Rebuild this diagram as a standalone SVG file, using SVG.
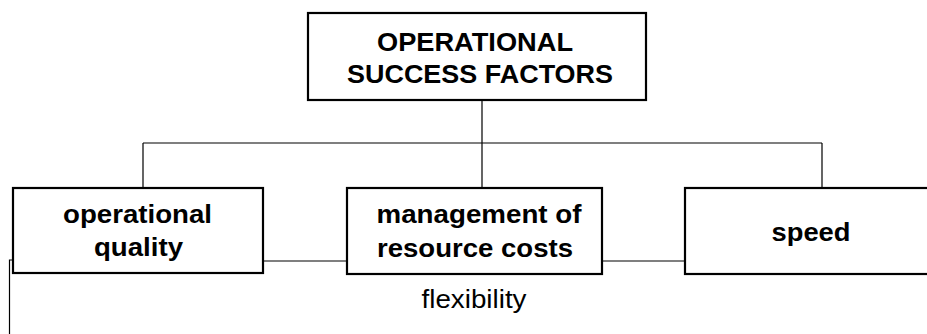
<svg xmlns="http://www.w3.org/2000/svg" width="927" height="334" viewBox="0 0 927 334">
<style>
.box{fill:#fff;stroke:#000;stroke-width:2.2}
.ln{fill:none;stroke:#000;stroke-width:1.2}
.b{font-family:"Liberation Sans",Arial,sans-serif;font-weight:bold;font-size:26px;fill:#000;text-anchor:middle}
.r{font-family:"Liberation Sans",Arial,sans-serif;font-size:26px;fill:#000;text-anchor:middle}
</style>
<rect width="927" height="334" fill="#fff"/>
<g id="connectors">
<path class="ln" d="M482 100V188M143 143H822M143 143V188M822 143V188"/>
<path class="ln" d="M263 261H347M602 261H685"/>
<path class="ln" d="M13 260H9.5V334"/>
</g>
<g id="top">
<rect class="box" x="308" y="13" width="338" height="87"/>
<text class="b" x="475" y="51" textLength="196" lengthAdjust="spacingAndGlyphs">OPERATIONAL</text>
<text class="b" x="480" y="83" textLength="266" lengthAdjust="spacingAndGlyphs">SUCCESS FACTORS</text>
</g>
<g id="quality">
<rect class="box" x="13" y="188" width="250" height="85"/>
<text class="b" x="137.5" y="223" textLength="149" lengthAdjust="spacingAndGlyphs">operational</text>
<text class="b" x="138.5" y="256" textLength="89" lengthAdjust="spacingAndGlyphs">quality</text>
</g>
<g id="costs">
<rect class="box" x="347" y="188" width="255" height="86"/>
<text class="b" x="479" y="223" textLength="205" lengthAdjust="spacingAndGlyphs">management of</text>
<text class="b" x="475" y="257" textLength="196" lengthAdjust="spacingAndGlyphs">resource costs</text>
</g>
<g id="speed">
<rect class="box" x="685" y="188" width="252" height="86"/>
<text class="b" x="811" y="241" textLength="79" lengthAdjust="spacingAndGlyphs">speed</text>
</g>
<g id="flex">
<text class="r" x="474" y="308" textLength="105" lengthAdjust="spacingAndGlyphs">flexibility</text>
</g>
</svg>
